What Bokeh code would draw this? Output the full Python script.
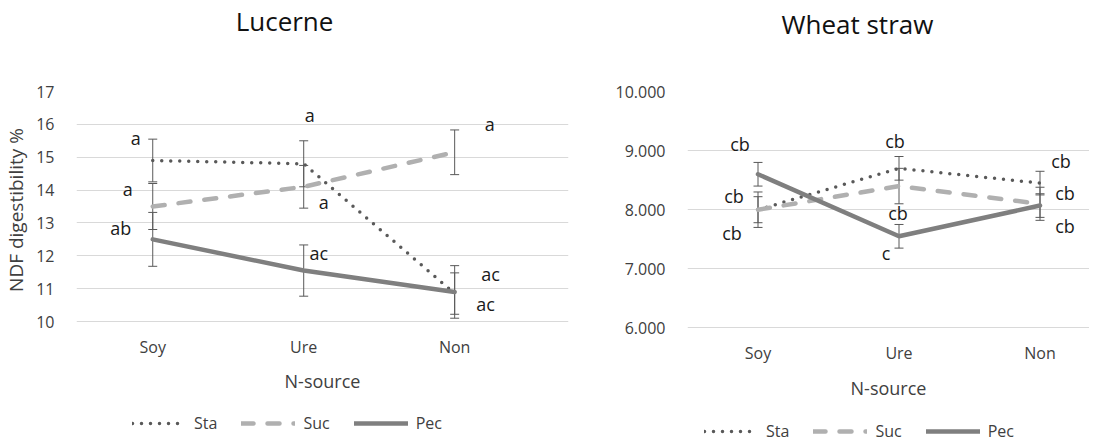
from bokeh.plotting import figure
from bokeh.models import (ColumnDataSource, Whisker, TeeHead, Legend, LegendItem,
                          FixedTicker, LabelSet)
from bokeh.layouts import row, column
from bokeh.core.properties import value
from bokeh.embed import file_html
from bokeh.resources import INLINE

# ---------------- data ----------------
categories = ["Soy", "Ure", "Non"]
series = ["Sta", "Suc", "Pec"]

# Lucerne
luc_sta = [14.9, 14.8, 10.85]
luc_suc = [13.5, 14.1, 15.15]
luc_pec = [12.5, 11.55, 10.9]
luc_sta_err = [0.65, 0.70, 0.63]
luc_suc_err = [0.70, 0.65, 0.68]
luc_pec_err = [0.82, 0.78, 0.80]
luc_lab_text = ["a", "a", "ab", "a", "a", "ac", "a", "ac", "ac"]
luc_lab_cat = [0, 0, 0, 1, 1, 1, 2, 2, 2]
luc_lab_y = [15.57, 14.02, 12.86, 16.27, 13.65, 12.07, 16.0, 11.46, 10.52]
luc_yticks = [10, 11, 12, 13, 14, 15, 16, 17]

# Wheat straw
wh_sta = [8.0, 8.7, 8.45]
wh_suc = [8.0, 8.4, 8.1]
wh_pec = [8.6, 7.55, 8.07]
wh_sta_err = [0.30, 0.20, 0.20]
wh_suc_err = [0.22, 0.30, 0.28]
wh_pec_err = [0.20, 0.20, 0.20]
wh_lab_text = ["cb", "cb", "cb", "cb", "cb", "c", "cb", "cb", "cb"]
wh_lab_cat = [0, 0, 0, 1, 1, 1, 2, 2, 2]
wh_lab_y = [9.12, 8.23, 7.60, 9.17, 7.94, 7.27, 8.82, 8.28, 7.72]
wh_yticks = [6, 7, 8, 9, 10]

# ---------------- styles ----------------
FONT = "Open Sans"
TXT = "#404040"
styles = {
    "Sta": dict(line_color="#595959", line_width=3.5, line_dash="0 9", line_cap="round"),
    "Suc": dict(line_color="#b0b0b0", line_width=4.5, line_dash="12 14", line_cap="round"),
    "Pec": dict(line_color="#7f7f7f", line_width=4.5, line_dash="solid", line_cap="round"),
}
luc_lab_dx = [-17, -25, -32, 6, 20, 15, 35, 36, 31]
wh_lab_dx = [-18, -24, -26, -4, -1, -13, 21, 25, 25]

TITLE_H = 50
CHART_H = 358
LEGEND_H = 34


def bare(width, height, xr, yr, border_left, border_right):
    f = figure(width=width, height=height, x_range=xr, y_range=yr,
               output_backend="svg", toolbar_location=None,
               x_axis_type=None, y_axis_type=None,
               min_border_left=border_left, min_border_right=border_right,
               min_border_top=0, min_border_bottom=0)
    f.outline_line_color = None
    f.xgrid.grid_line_color = None
    f.ygrid.grid_line_color = None
    return f


def make_title(text, xr, tx, ty, width, border_left, border_right):
    t = bare(width, TITLE_H, xr, (0, TITLE_H), border_left, border_right)
    t.text(x=[tx], y=[ty], text=[text], text_font=value(FONT), text_font_size="26px",
           text_color="#111111", text_align="center", text_baseline="alphabetic")
    return t


def make_legend(vals, xr, width, border_left, border_right, loc):
    # legend-only strip: the series are drawn off-frame, only their legend glyphs show
    f = bare(width, LEGEND_H, xr, (0, 1), border_left, border_right)
    items = []
    for name in series:
        r = f.line(x=list(range(len(categories))), y=vals[name], **styles[name])
        items.append(LegendItem(label=name, renderers=[r]))
    leg = Legend(items=items, orientation="horizontal", location=loc,
                 glyph_width=54, glyph_height=18, label_height=18,
                 label_standoff=8, spacing=24, padding=0, margin=0,
                 border_line_color=None, background_fill_alpha=0,
                 label_text_font=FONT, label_text_font_size="16px", label_text_color=TXT)
    f.add_layout(leg)
    return f


def make_chart(vals, errs, yr, xr, yticks, fmt, lab_text, lab_cat, lab_y, lab_dx,
               width, border_left, border_right, tick_standoff, xlabel_standoff, ylabel=None):
    p = figure(width=width, height=CHART_H, x_range=xr, y_range=yr,
               output_backend="svg", toolbar_location=None,
               min_border_left=border_left, min_border_right=border_right,
               min_border_top=41, min_border_bottom=80)
    p.outline_line_color = None

    x = list(range(len(categories)))
    p.xaxis.ticker = FixedTicker(ticks=x)
    p.xaxis.major_label_overrides = {i: c for i, c in enumerate(categories)}
    p.yaxis.ticker = FixedTicker(ticks=yticks)
    p.yaxis.major_label_overrides = {t: fmt(t) for t in yticks}
    for ax in (p.xaxis, p.yaxis):
        ax.axis_line_color = None
        ax.major_tick_line_color = None
        ax.minor_tick_line_color = None
        ax.major_label_text_font = FONT
        ax.major_label_text_font_size = "16px"
        ax.major_label_text_color = TXT
        ax.axis_label_text_font = FONT
        ax.axis_label_text_font_size = "18px"
        ax.axis_label_text_font_style = "normal"
        ax.axis_label_text_color = TXT
    p.xaxis.major_label_standoff = tick_standoff
    p.yaxis.major_label_standoff = 16
    p.xaxis.axis_label = "N-source"
    p.xaxis.axis_label_standoff = xlabel_standoff
    if ylabel:
        p.yaxis.axis_label = ylabel
        p.yaxis.axis_label_text_font_size = "19px"
        p.yaxis.axis_label_standoff = 4
    p.xgrid.grid_line_color = None
    p.ygrid.grid_line_color = "#d9d9d9"
    p.ygrid.grid_line_width = 1

    for name in series:
        src = ColumnDataSource(dict(x=x, y=vals[name],
                                    lo=[v - e for v, e in zip(vals[name], errs[name])],
                                    hi=[v + e for v, e in zip(vals[name], errs[name])]))
        p.line("x", "y", source=src, **styles[name])
        w = Whisker(base="x", lower="lo", upper="hi", source=src, dimension="height",
                    line_color="#595959", line_width=1,
                    lower_head=TeeHead(size=9, line_color="#595959", line_width=1),
                    upper_head=TeeHead(size=9, line_color="#595959", line_width=1))
        p.add_layout(w)

    lsrc = ColumnDataSource(dict(x=lab_cat, y=lab_y, t=lab_text, dx=lab_dx))
    p.add_layout(LabelSet(x="x", y="y", text="t", x_offset="dx", source=lsrc,
                          text_font=value(FONT), text_font_size="18px", text_color="#1a1a1a",
                          text_align="center", text_baseline="middle"))
    return p


luc_xr = (-0.505, 2.754)
wh_xr = (-0.5, 2.351)
luc_vals = {"Sta": luc_sta, "Suc": luc_suc, "Pec": luc_pec}
wh_vals = {"Sta": wh_sta, "Suc": wh_suc, "Pec": wh_pec}

title_left = make_title("Lucerne", luc_xr, 0.892, 30, 575, 71, 7)
title_right = make_title("Wheat straw", wh_xr, 0.705, 27, 514, 112, 0)

left = make_chart(
    luc_vals,
    {"Sta": luc_sta_err, "Suc": luc_suc_err, "Pec": luc_pec_err},
    (9.787, 17), luc_xr, luc_yticks, lambda t: str(t),
    luc_lab_text, luc_lab_cat, luc_lab_y, luc_lab_dx,
    width=575, border_left=71, border_right=7,
    tick_standoff=1, xlabel_standoff=8, ylabel="NDF digestibility %")

right = make_chart(
    wh_vals,
    {"Sta": wh_sta_err, "Suc": wh_suc_err, "Pec": wh_pec_err},
    (5.99, 10), wh_xr, wh_yticks, lambda t: f"{t:.3f}",
    wh_lab_text, wh_lab_cat, wh_lab_y, wh_lab_dx,
    width=514, border_left=112, border_right=0,
    tick_standoff=7, xlabel_standoff=9)

legend_left = make_legend(luc_vals, luc_xr, 575, 71, 7, (61, 8))
legend_right = make_legend(wh_vals, wh_xr, 514, 112, 0, (17, 0))

layout = column(row(title_left, title_right, spacing=0),
                row(left, right, spacing=0),
                row(legend_left, legend_right, spacing=0), spacing=0)
open("out.html", "w").write(file_html(layout, INLINE))
